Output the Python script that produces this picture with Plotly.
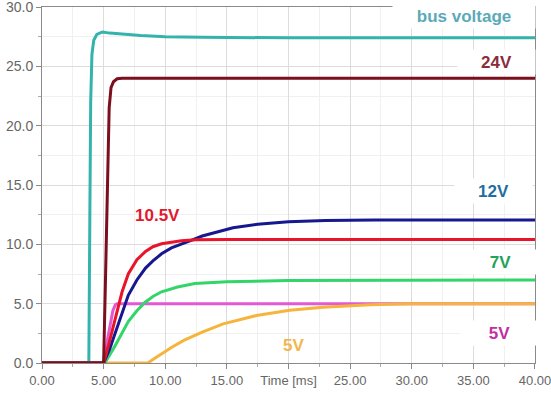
import plotly.graph_objects as go

# ---- data (time in ms, voltage in V) ----
bus_t = [0, 3.8, 3.88, 3.95, 4.05, 4.2, 4.45, 4.9, 5.5, 6.5, 8.0, 10.0, 13.0, 20.0, 30.0, 40.0]
bus_v = [0, 0, 12.0, 22.0, 26.0, 27.2, 27.7, 27.9, 27.8, 27.7, 27.6, 27.5, 27.45, 27.4, 27.4, 27.4]

v24_t = [0, 5.0, 5.15, 5.3, 5.45, 5.6, 5.8, 6.1, 6.5, 40.0]
v24_v = [0, 0, 7.0, 15.0, 21.5, 23.2, 23.7, 23.95, 24.0, 24.0]

v12_t = [0, 5.0, 5.5, 6.0, 6.5, 7.0, 7.7, 8.4, 9.0, 9.7, 10.5, 11.3, 12.0, 13.0, 14.0, 15.5, 17.5, 20.0, 23.0, 27.0, 40.0]
v12_v = [0, 0, 1.2, 2.7, 4.3, 5.7, 7.0, 8.0, 8.6, 9.2, 9.7, 10.05, 10.3, 10.7, 11.0, 11.4, 11.7, 11.9, 12.0, 12.05, 12.05]

v105_t = [0, 5.0, 5.4, 5.9, 6.5, 7.0, 7.7, 8.4, 9.0, 9.7, 10.5, 11.3, 12.5, 15.0, 40.0]
v105_v = [0, 0, 1.5, 3.6, 6.0, 7.5, 8.7, 9.4, 9.8, 10.05, 10.2, 10.3, 10.38, 10.4, 10.4]

v7_t = [0, 5.1, 5.9, 6.5, 7.0, 7.7, 8.35, 9.0, 9.7, 11.0, 12.4, 15.0, 20.0, 40.0]
v7_v = [0, 0, 1.4, 2.6, 3.5, 4.4, 5.1, 5.6, 6.0, 6.4, 6.7, 6.85, 6.95, 7.0]

v5a_t = [0, 5.0, 5.35, 5.75, 5.95, 6.1, 40.0]
v5a_v = [0, 0, 2.2, 4.4, 4.9, 5.0, 5.0]

v5b_t = [0, 8.6, 9.0, 9.7, 10.5, 11.5, 13.0, 14.7, 17.4, 20.1, 22.8, 26.6, 30.0, 40.0]
v5b_v = [0, 0, 0.3, 0.8, 1.3, 1.9, 2.6, 3.3, 4.0, 4.45, 4.7, 4.9, 5.0, 5.0]

x_tickvals = [0, 5, 10, 15, 20, 25, 30, 35, 40]
x_ticktext = ["0.00", "5.00", "10.00", "15.00", "Time [ms]", "25.00", "30.00", "35.00", "40.00"]
y_tickvals = [0, 5, 10, 15, 20, 25, 30]
y_ticktext = ["0.0", "5.0", "10.0", "15.0", "20.0", "25.0", "30.0"]

series = [
    (bus_t, bus_v, "#34b3ad"),
    (v5a_t, v5a_v, "#e458d4"),
    (v5b_t, v5b_v, "#f7b43c"),
    (v7_t, v7_v, "#33d46a"),
    (v12_t, v12_v, "#17178f"),
    (v105_t, v105_v, "#e8152a"),
    (v24_t, v24_v, "#7b0f1e"),
]

fig = go.Figure()
for t, v, c in series:
    fig.add_trace(go.Scatter(x=t, y=v, mode="lines", line=dict(color=c, width=3),
                             hoverinfo="skip"))

labels = [
    ("bus voltage", 34.2, 29.25, "#5aaab8", 140),
    ("24V", 36.9, 25.35, "#8b2c3c", 75),
    ("12V", 36.6, 14.5, "#1e6fa0", 75),
    ("7V", 37.2, 8.5, "#21a35a", 75),
    ("5V", 37.1, 2.55, "#c42ea0", 75),
]
for txt, x, y, c, w in labels:
    fig.add_annotation(x=x, y=y, xref="x", yref="y", text="<b>" + txt + "</b>", showarrow=False,
                       font=dict(family="Arial, Liberation Sans", size=17, color=c),
                       bgcolor="white", width=w, height=22, align="center")
fig.add_annotation(x=9.35, y=12.4, xref="x", yref="y", text="<b>10.5V</b>", showarrow=False,
                   font=dict(family="Arial, Liberation Sans", size=17, color="#e3182d"))
fig.add_annotation(x=20.4, y=1.45, xref="x", yref="y", text="<b>5V</b>", showarrow=False,
                   font=dict(family="Arial, Liberation Sans", size=17, color="#f0b84a"))

fig.update_layout(
    width=551, height=394,
    margin=dict(l=42, r=16, t=7, b=31),
    plot_bgcolor="white", paper_bgcolor="white",
    showlegend=False,
    font=dict(family="Arial, Liberation Sans", color="#666666"),
)
fig.update_xaxes(range=[0, 40.001], tickvals=x_tickvals, ticktext=x_ticktext,
                 ticklabeloverflow="allow", automargin=False,
                 showgrid=True, gridcolor="#dcdcdc", gridwidth=1,
                 zeroline=False, showline=True, linecolor="#8a8a8a", linewidth=1,
                 mirror=True, ticks="outside", ticklen=5, tickcolor="#8a8a8a",
                 tickfont=dict(size=13, color="#666666"),
                 minor=dict(dtick=2.5, showgrid=True, gridcolor="#f0f0f0",
                            ticks="outside", ticklen=3, tickcolor="#aaaaaa"))
fig.update_yaxes(range=[0, 30.001], tickvals=y_tickvals, ticktext=y_ticktext,
                 ticklabeloverflow="allow", automargin=False,
                 showgrid=True, gridcolor="#dcdcdc", gridwidth=1,
                 zeroline=False, showline=True, linecolor="#8a8a8a", linewidth=1,
                 mirror=True, ticks="outside", ticklen=5, tickcolor="#8a8a8a",
                 tickfont=dict(size=14, color="#666666"),
                 minor=dict(dtick=2.5, showgrid=True, gridcolor="#f0f0f0",
                            ticks="outside", ticklen=3, tickcolor="#aaaaaa"))

fig.write_html("out.html", config={"displayModeBar": False},
               post_script="document.body.style.margin='0';")
